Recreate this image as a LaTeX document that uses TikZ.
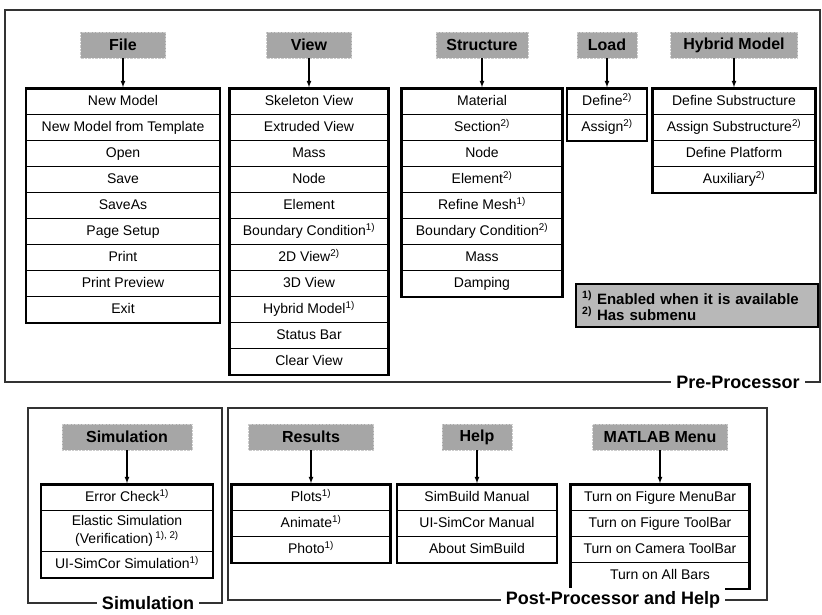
\documentclass[tikz,border=0pt]{standalone}
\usepackage{fontspec}
\setmainfont{Liberation Sans}
\usetikzlibrary{matrix,positioning}

\newcommand{\sfn}[1]{\textsuperscript{#1)}}
\newcommand{\twolines}[2]{\begin{tabular}{@{}c@{}}#1\\#2\end{tabular}}

\tikzset{
  menuhead/.style={fill=black!35, draw=black!20, densely dotted, minimum height=26pt,
    inner sep=0pt, font=\bfseries\fontsize{16}{16}\selectfont},
  menulist/.style={matrix of nodes, draw, line width=2.4pt, inner sep=0pt, row sep=-0.7pt,
    nodes={draw, line width=0.7pt, minimum width=#1, minimum height=26pt, anchor=center,
      inner sep=2pt, text height=10pt, text depth=3pt, font=\fontsize{14}{17}\selectfont}},
  menuarrow/.style={-latex, line width=1.2pt},
  groupframe/.style={draw=black!80, line width=1.6pt},
  grouplabel/.style={fill=white, inner xsep=5pt, font=\bfseries\fontsize{18}{18}\selectfont},
  legendbox/.style={draw, fill=black!28, line width=2.4pt, text width=230pt, align=left,
    inner xsep=6pt, inner ysep=7pt, font=\bfseries\fontsize{15}{16}\selectfont},
}

\begin{document}
\begin{tikzpicture}[x=1pt,y=-1pt]
\useasboundingbox (0,0) rectangle (822,615);

% frames round the three groups
\draw[groupframe] (5,10) rectangle (820,382);
\draw[groupframe] (28,408) rectangle (222,603);
\draw[groupframe] (228,408) rectangle (767,600);

% Pre-Processor
\node[menuhead, minimum width=85pt] (filehdr) at (123,45) {File};
\node[menuhead, minimum width=85pt] (viewhdr) at (309,45) {View};
\node[menuhead, minimum width=92pt] (structhdr) at (482,45) {Structure};
\node[menuhead, minimum width=60pt] (loadhdr) at (607,45) {Load};
\node[menuhead, minimum width=127pt] (hybridhdr) at (734,45) {Hybrid Model};

\matrix[menulist=193pt, below=29pt of filehdr] (filemenu) {
  New Model \\
  New Model from Template \\
  Open \\
  Save \\
  SaveAs \\
  Page Setup \\
  Print \\
  Print Preview \\
  Exit \\
};
\matrix[menulist=158pt, below=29pt of viewhdr] (viewmenu) {
  Skeleton View \\
  Extruded View \\
  Mass \\
  Node \\
  Element \\
  Boundary Condition\sfn{1} \\
  2D View\sfn{2} \\
  3D View \\
  Hybrid Model\sfn{1} \\
  Status Bar \\
  Clear View \\
};
\matrix[menulist=160pt, below=29pt of structhdr] (structmenu) {
  Material \\
  Section\sfn{2} \\
  Node \\
  Element\sfn{2} \\
  Refine Mesh\sfn{1} \\
  Boundary Condition\sfn{2} \\
  Mass \\
  Damping \\
};
\matrix[menulist=79pt, below=29pt of loadhdr] (loadmenu) {
  Define\sfn{2} \\
  Assign\sfn{2} \\
};
\matrix[menulist=162pt, below=29pt of hybridhdr] (hybridmenu) {
  Define Substructure \\
  Assign Substructure\sfn{2} \\
  Define Platform \\
  Auxiliary\sfn{2} \\
};

\draw[menuarrow] (filehdr) -- (filemenu);
\draw[menuarrow] (viewhdr) -- (viewmenu);
\draw[menuarrow] (structhdr) -- (structmenu);
\draw[menuarrow] (loadhdr) -- (loadmenu);
\draw[menuarrow] (hybridhdr) -- (hybridmenu);

\node[legendbox, anchor=north west] (notes) at (575,283)
  {\sfn{1} Enabled when it is available\\\sfn{2} Has submenu};

% Simulation
\node[menuhead, minimum width=130pt] (simhdr) at (127,437) {Simulation};
\matrix[menulist=171pt, below=33pt of simhdr] (simmenu) {
  Error Check\sfn{1} \\
  |[minimum height=41pt, text height=20.5pt, text depth=13.5pt]| \twolines{Elastic Simulation}{(Verification)\,\textsuperscript{1), 2)}} \\
  UI-SimCor Simulation\sfn{1} \\
};
\draw[menuarrow] (simhdr) -- (simmenu);

% Post-Processor and Help
\node[menuhead, minimum width=125pt] (resulthdr) at (311,437) {Results};
\node[menuhead, minimum width=70pt] (helphdr) at (477,437) {Help};
\node[menuhead, minimum width=135pt] (matlabhdr) at (660,437) {MATLAB Menu};

\matrix[menulist=158pt, below=33pt of resulthdr] (resultmenu) {
  Plots\sfn{1} \\
  Animate\sfn{1} \\
  Photo\sfn{1} \\
};
\matrix[menulist=159pt, below=33pt of helphdr] (helpmenu) {
  SimBuild Manual \\
  UI-SimCor Manual \\
  About SimBuild \\
};
\matrix[menulist=178pt, below=33pt of matlabhdr] (matlabmenu) {
  Turn on Figure MenuBar \\
  Turn on Figure ToolBar \\
  Turn on Camera ToolBar \\
  Turn on All Bars \\
};

\draw[menuarrow] (resulthdr) -- (resultmenu);
\draw[menuarrow] (helphdr) -- (helpmenu);
\draw[menuarrow] (matlabhdr) -- (matlabmenu);

% group labels on the frame lines
\node[grouplabel] (prelbl) at (738,382) {Pre-Processor};
\node[grouplabel] (simlbl) at (148,603) {Simulation};
\node[grouplabel] (postlbl) at (613,600) {Post-Processor and Help};
\end{tikzpicture}
\end{document}
